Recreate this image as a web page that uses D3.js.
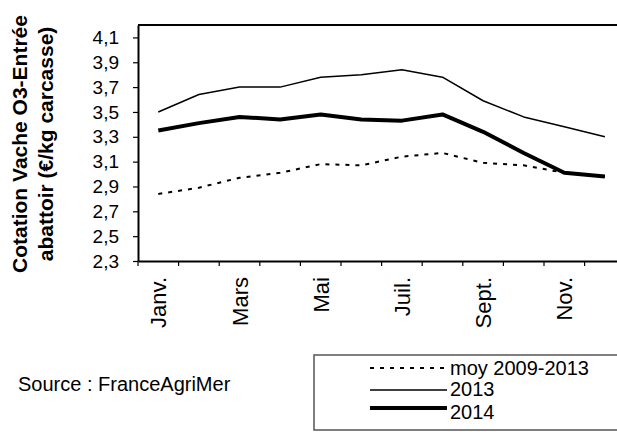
<!DOCTYPE html>
<html>
<head>
<meta charset="utf-8">
<script src="https://cdn.jsdelivr.net/npm/d3@7"></script>
<style>
  body { margin: 0; background: #fff; }
  svg { display: block; font-family: Arial, "Liberation Sans", sans-serif; }
</style>
</head>
<body>
<div id="chart"></div>
<script>
// DATA
////////////////////////////
var months = ["Janv.", "Févr.", "Mars", "Avril", "Mai", "Juin", "Juil.", "Août", "Sept.", "Oct.", "Nov.", "Déc."];
var moy0913 = [2.84, 2.89, 2.97, 3.01, 3.08, 3.07, 3.14, 3.17, 3.09, 3.07, 3.01, 2.98];
var y2013   = [3.50, 3.64, 3.70, 3.70, 3.78, 3.80, 3.84, 3.78, 3.59, 3.46, 3.38, 3.30];
var y2014   = [3.35, 3.41, 3.46, 3.44, 3.48, 3.44, 3.43, 3.48, 3.34, 3.17, 3.01, 2.98];
var yTicks  = [2.3, 2.5, 2.7, 2.9, 3.1, 3.3, 3.5, 3.7, 3.9, 4.1];

var series = [
  { name: "moy 2009-2013", values: moy0913, width: 2,   dash: "4,6" },
  { name: "2013",          values: y2013,   width: 1.5, dash: null },
  { name: "2014",          values: y2014,   width: 4,   dash: null }
];

// SETUP
////////////////////////////
var width = 617,
    height = 432;

var svg = d3.select("#chart").append("svg")
    .attr("width", width)
    .attr("height", height);

// plot area runs off the right edge of the picture (cropped in the original)
var x = d3.scaleBand()
    .domain(months)
    .range([138, 138 + 12 * 40.6]);

var y = d3.scaleLinear()
    .domain([2.3, 4.2])
    .range([261, 25]);

var commaFmt = function(d) { return d3.format(".1f")(d).replace(".", ","); };

// top border of plot area
svg.append("line")
    .attr("x1", x.range()[0]).attr("x2", x.range()[1])
    .attr("y1", y.range()[1]).attr("y2", y.range()[1])
    .attr("stroke", "#000").attr("stroke-width", 2);

// Y axis
var yAxis = svg.append("g")
    .attr("transform", "translate(" + x.range()[0] + ",0)")
    .call(d3.axisLeft(y).tickValues(yTicks).tickFormat(commaFmt).tickSize(5).tickSizeOuter(0));
yAxis.select(".domain").attr("stroke-width", 2);
yAxis.selectAll(".tick line").attr("stroke-width", 1.2);
yAxis.selectAll(".tick text")
    .attr("x", -19)
    .attr("font-size", 19)
    .attr("font-family", "Arial, 'Liberation Sans', sans-serif")
    .attr("fill", "#000");

// X axis : line + ticks at month boundaries
var xAxis = svg.append("g")
    .attr("transform", "translate(0," + y.range()[0] + ")")
    .call(d3.axisBottom(x).tickSize(0).tickSizeOuter(0).tickFormat(""));
xAxis.select(".domain").attr("stroke-width", 2);

var bounds = months.map(function(m) { return x(m); }).concat([x.range()[1]]);
xAxis.selectAll(".bound")
    .data(bounds).enter().append("line")
    .attr("class", "bound")
    .attr("x1", function(d) { return d; })
    .attr("x2", function(d) { return d; })
    .attr("y1", 0).attr("y2", 5)
    .attr("stroke", "#000").attr("stroke-width", 1.2);

// month labels, every other one, rotated
svg.selectAll(".mlabel")
    .data(months.filter(function(d, i) { return i % 2 === 0; }))
    .enter().append("text")
    .attr("class", "mlabel")
    .attr("transform", function(d) {
      return "translate(" + (x(d) + x.bandwidth() / 2 + 8) + ",277) rotate(-90)";
    })
    .attr("text-anchor", "end")
    .attr("font-size", 22)
    .text(function(d) { return d; });

// Y title (two lines)
var title = svg.append("text")
    .attr("transform", "translate(27,144) rotate(-90)")
    .attr("text-anchor", "middle")
    .attr("font-size", 21)
    .attr("font-weight", "bold");
title.append("tspan").attr("x", 0).attr("dy", 0).text("Cotation Vache O3-Entrée");
title.append("tspan").attr("x", 0).attr("dy", 26).text("abattoir (€/kg carcasse)");

// LINES
////////////////////////////
var line = d3.line()
    .x(function(d, i) { return x(months[i]) + x.bandwidth() / 2; })
    .y(function(d) { return y(d); });

svg.selectAll(".series")
    .data(series).enter().append("path")
    .attr("class", "series")
    .attr("d", function(d) { return line(d.values); })
    .attr("fill", "none")
    .attr("stroke", "#000")
    .attr("stroke-width", function(d) { return d.width; })
    .attr("stroke-dasharray", function(d) { return d.dash; })
    .attr("stroke-linejoin", "round");

// SOURCE + LEGEND
////////////////////////////
svg.append("text")
    .attr("x", 18).attr("y", 391)
    .attr("font-size", 20)
    .text("Source : FranceAgriMer");

svg.append("rect")
    .attr("x", 314).attr("y", 355)
    .attr("width", 330).attr("height", 75)
    .attr("fill", "none")
    .attr("stroke", "#555").attr("stroke-width", 1.5);

var legY = [368, 390, 408];
var legTextDy = [7, 6, 11];   // texts sit a bit apart so they don't collide
var leg = svg.selectAll(".leg")
    .data(series).enter().append("g")
    .attr("class", "leg")
    .attr("transform", function(d, i) { return "translate(370," + legY[i] + ")"; });

leg.append("line")
    .attr("x1", 0).attr("x2", 77)
    .attr("stroke", "#000")
    .attr("stroke-width", function(d) { return d.width; })
    .attr("stroke-dasharray", function(d) { return d.dash; });

leg.append("text")
    .attr("x", 80)
    .attr("y", function(d, i) { return legTextDy[i]; })
    .attr("font-size", 20)
    .text(function(d) { return d.name; });
</script>
</body>
</html>
